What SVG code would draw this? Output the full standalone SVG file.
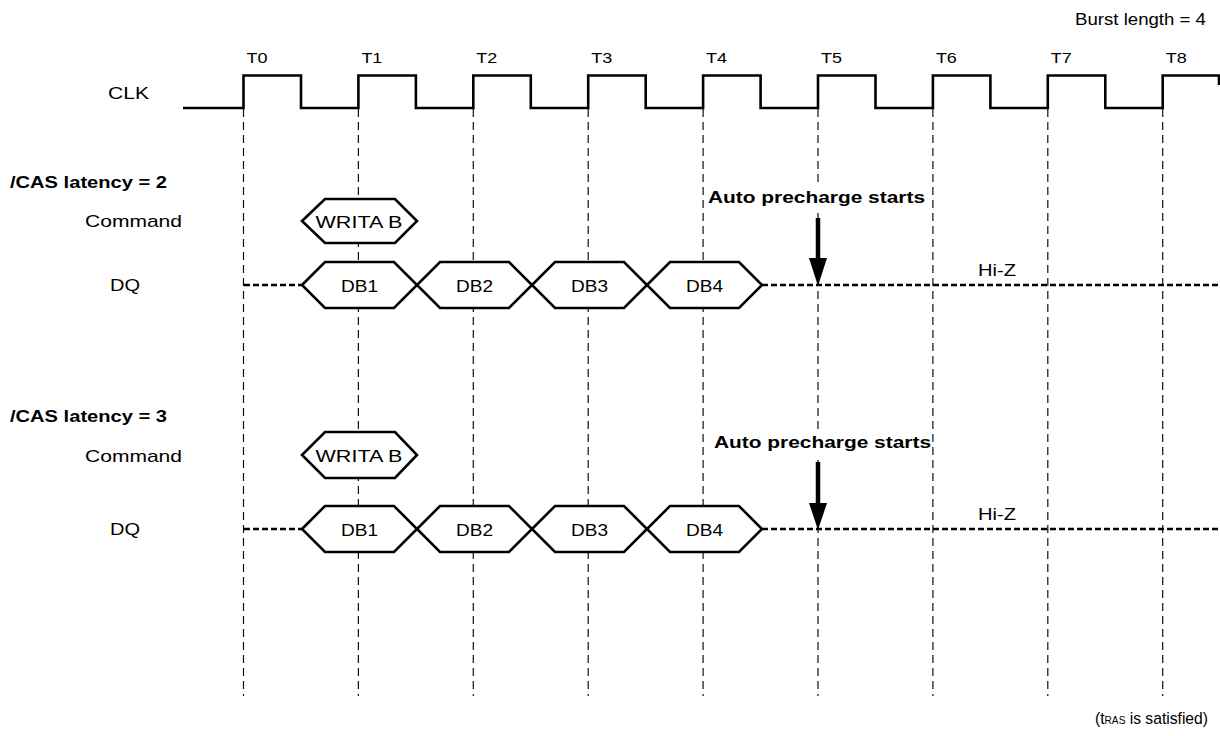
<svg xmlns="http://www.w3.org/2000/svg" width="1220" height="736" viewBox="0 0 1220 736">
<style>
text{font-family:"Liberation Sans",Arial,Helvetica,sans-serif;fill:#000}
.r{font-size:17px}
.b{font-size:16.5px;font-weight:bold}
.t{font-size:15px}
.c{text-anchor:middle}
.grid{stroke:#111;stroke-width:1.2;stroke-dasharray:8 5;fill:none}
.sig{stroke:#000;stroke-width:2.6;fill:none;stroke-linejoin:miter}
.hex{stroke:#000;stroke-width:2.6;fill:#fff;stroke-linejoin:miter}
.hz{stroke:#000;stroke-width:2.6;stroke-dasharray:6 3;fill:none}
.arr{stroke:#000;stroke-width:4.5}
</style>
<rect width="1220" height="736" fill="#fff"/>
<g id="title"><text class="r" x="1075" y="25" textLength="131" lengthAdjust="spacingAndGlyphs">Burst length = 4</text></g>
<g id="grid">
<line class="grid" x1="243.5" y1="109" x2="243.5" y2="696"/>
<line class="grid" x1="358.4" y1="109" x2="358.4" y2="696"/>
<line class="grid" x1="473.3" y1="109" x2="473.3" y2="696"/>
<line class="grid" x1="588.2" y1="109" x2="588.2" y2="696"/>
<line class="grid" x1="703.1" y1="109" x2="703.1" y2="696"/>
<line class="grid" x1="818" y1="109" x2="818" y2="696"/>
<line class="grid" x1="932.9" y1="109" x2="932.9" y2="696"/>
<line class="grid" x1="1047.8" y1="109" x2="1047.8" y2="696"/>
<line class="grid" x1="1162.7" y1="109" x2="1162.7" y2="696"/>
</g>
<g id="tlabels">
<text class="t" x="246.5" y="63" textLength="21" lengthAdjust="spacingAndGlyphs">T0</text>
<text class="t" x="361.4" y="63" textLength="21" lengthAdjust="spacingAndGlyphs">T1</text>
<text class="t" x="476.3" y="63" textLength="21" lengthAdjust="spacingAndGlyphs">T2</text>
<text class="t" x="591.2" y="63" textLength="21" lengthAdjust="spacingAndGlyphs">T3</text>
<text class="t" x="706.1" y="63" textLength="21" lengthAdjust="spacingAndGlyphs">T4</text>
<text class="t" x="821" y="63" textLength="21" lengthAdjust="spacingAndGlyphs">T5</text>
<text class="t" x="935.9" y="63" textLength="21" lengthAdjust="spacingAndGlyphs">T6</text>
<text class="t" x="1050.8" y="63" textLength="21" lengthAdjust="spacingAndGlyphs">T7</text>
<text class="t" x="1165.7" y="63" textLength="21" lengthAdjust="spacingAndGlyphs">T8</text>
</g>
<g id="clk">
<text class="r" x="108" y="99" textLength="41" lengthAdjust="spacingAndGlyphs">CLK</text>
<path class="sig" d="M183,108 H243.5 V75.5 H301 V108 H358.4 V75.5 H415.9 V108 H473.3 V75.5 H530.8 V108 H588.2 V75.5 H645.7 V108 H703.1 V75.5 H760.6 V108 H818 V75.5 H875.5 V108 H932.9 V75.5 H990.4 V108 H1047.8 V75.5 H1105.3 V108 H1162.7 V75.5 H1219 V85"/>
</g>
<g id="cl2">
<text class="b" x="10" y="188" textLength="157" lengthAdjust="spacingAndGlyphs">/CAS latency = 2</text>
<text class="r" x="85" y="227" textLength="97" lengthAdjust="spacingAndGlyphs">Command</text>
<text class="r" x="110" y="291" textLength="30" lengthAdjust="spacingAndGlyphs">DQ</text>
</g>
<g id="cmd2">
<polygon class="hex" points="302,221 325,199 395,199 417,221 395,243 325,243"/>
<text class="r c" x="359" y="228" textLength="87" lengthAdjust="spacingAndGlyphs">WRITA B</text>
</g>
<g id="dq2">
<path class="hz" d="M244,285 H302 M762,285 H1220"/>
<polygon class="hex" points="302,285 325,262 394,262 417,285 394,308 325,308"/>
<polygon class="hex" points="417,285 440,262 509,262 532,285 509,308 440,308"/>
<polygon class="hex" points="532,285 555,262 624,262 647,285 624,308 555,308"/>
<polygon class="hex" points="647,285 670,262 739,262 762,285 739,308 670,308"/>
<text class="r c" x="359.5" y="292" textLength="37" lengthAdjust="spacingAndGlyphs">DB1</text>
<text class="r c" x="474.5" y="292" textLength="37" lengthAdjust="spacingAndGlyphs">DB2</text>
<text class="r c" x="589.5" y="292" textLength="37" lengthAdjust="spacingAndGlyphs">DB3</text>
<text class="r c" x="704.5" y="292" textLength="37" lengthAdjust="spacingAndGlyphs">DB4</text>
<text class="r" x="978" y="276" textLength="38" lengthAdjust="spacingAndGlyphs">Hi-Z</text>
</g>
<g id="ap2">
<rect x="706" y="187" width="222" height="24" fill="#fff"/>
<text class="b" x="708" y="203" textLength="217" lengthAdjust="spacingAndGlyphs">Auto precharge starts</text>
</g>
<g id="cl3">
<text class="b" x="10" y="422" textLength="157" lengthAdjust="spacingAndGlyphs">/CAS latency = 3</text>
<text class="r" x="85" y="462" textLength="97" lengthAdjust="spacingAndGlyphs">Command</text>
<text class="r" x="110" y="535" textLength="30" lengthAdjust="spacingAndGlyphs">DQ</text>
</g>
<g id="cmd3">
<polygon class="hex" points="302,455 325,432 395,432 417,455 395,478 325,478"/>
<text class="r c" x="359" y="462" textLength="87" lengthAdjust="spacingAndGlyphs">WRITA B</text>
</g>
<g id="dq3">
<path class="hz" d="M244,529 H302 M762,529 H1220"/>
<polygon class="hex" points="302,529 325,506 394,506 417,529 394,552 325,552"/>
<polygon class="hex" points="417,529 440,506 509,506 532,529 509,552 440,552"/>
<polygon class="hex" points="532,529 555,506 624,506 647,529 624,552 555,552"/>
<polygon class="hex" points="647,529 670,506 739,506 762,529 739,552 670,552"/>
<text class="r c" x="359.5" y="536" textLength="37" lengthAdjust="spacingAndGlyphs">DB1</text>
<text class="r c" x="474.5" y="536" textLength="37" lengthAdjust="spacingAndGlyphs">DB2</text>
<text class="r c" x="589.5" y="536" textLength="37" lengthAdjust="spacingAndGlyphs">DB3</text>
<text class="r c" x="704.5" y="536" textLength="37" lengthAdjust="spacingAndGlyphs">DB4</text>
<text class="r" x="978" y="520" textLength="38" lengthAdjust="spacingAndGlyphs">Hi-Z</text>
</g>
<g id="ap3">
<rect x="712" y="431" width="220" height="27" fill="#fff"/>
<text class="b" x="714" y="448" textLength="217" lengthAdjust="spacingAndGlyphs">Auto precharge starts</text>
</g>
<g id="connectors">
<line class="arr" x1="818" y1="218" x2="818" y2="262"/>
<polygon points="809,258 827,258 818,286" fill="#000"/>
<line class="arr" x1="818" y1="462" x2="818" y2="507"/>
<polygon points="809,503 827,503 818,530" fill="#000"/>
</g>
<g id="note"><text class="r" x="1095" y="724" textLength="113" lengthAdjust="spacingAndGlyphs">(t<tspan font-size="11">RAS</tspan> is satisfied)</text></g>
</svg>
